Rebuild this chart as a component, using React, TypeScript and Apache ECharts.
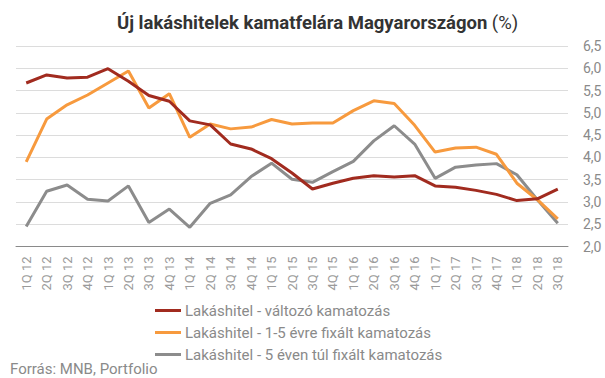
import React, { useEffect, useRef } from "react";
import * as echarts from "echarts";

const categories = [
  "1Q 12", "2Q 12", "3Q 12", "4Q 12",
  "1Q 13", "2Q 13", "3Q 13", "4Q 13",
  "1Q 14", "2Q 14", "3Q 14", "4Q 14",
  "1Q 15", "2Q 15", "3Q 15", "4Q 15",
  "1Q 16", "2Q 16", "3Q 16", "4Q 16",
  "1Q 17", "2Q 17", "3Q 17", "4Q 17",
  "1Q 18", "2Q 18", "3Q 18",
];

const valtozo = [
  5.67, 5.85, 5.78, 5.80, 5.99, 5.71, 5.39, 5.26, 4.82, 4.73, 4.30, 4.19,
  3.97, 3.65, 3.29, 3.42, 3.53, 3.59, 3.56, 3.59, 3.36, 3.33, 3.26, 3.17,
  3.03, 3.07, 3.29,
];

const fix15 = [
  3.90, 4.86, 5.18, 5.40, 5.67, 5.94, 5.11, 5.43, 4.45, 4.75, 4.64, 4.68,
  4.85, 4.75, 4.77, 4.77, 5.05, 5.27, 5.21, 4.72, 4.12, 4.21, 4.23, 4.07,
  3.42, 3.05, 2.62,
];

const fix5plus = [
  2.45, 3.24, 3.38, 3.06, 3.02, 3.36, 2.54, 2.84, 2.43, 2.97, 3.16, 3.57,
  3.87, 3.51, 3.44, 3.68, 3.91, 4.37, 4.71, 4.30, 3.53, 3.78, 3.83, 3.86,
  3.61, 3.05, 2.52,
];

const seriesNames = [
  "Lakáshitel - változó kamatozás",
  "Lakáshitel - 1-5 évre fixált kamatozás",
  "Lakáshitel - 5 éven túl fixált kamatozás",
];

const colors = ["#A12B1F", "#F79A3E", "#8C8C8C"];

export default function App() {
  const ref = useRef<HTMLDivElement>(null);
  useEffect(() => {
    if (!ref.current) return;
    const chart = echarts.init(ref.current, undefined, { renderer: "svg" });
    const font = "Roboto, 'Noto Sans', sans-serif";
    chart.setOption({
      animation: false,
      color: colors,
      textStyle: { fontFamily: font },
      title: {
        text: "{b|Új lakáshitelek kamatfelára Magyarországon} {n|(%)}",
        left: 112,
        top: 8,
        textStyle: {
          rich: {
            b: { fontFamily: font, fontSize: 18.5, fontWeight: "bold", color: "#333333" },
            n: { fontFamily: font, fontSize: 18.5, fontWeight: "normal", color: "#333333" },
          },
        },
      },
      grid: { left: 16, right: 37, top: 46, bottom: 131.5, containLabel: false },
      legend: {
        orient: "vertical",
        left: 150,
        top: 298,
        itemGap: 7,
        itemWidth: 26,
        itemHeight: 3,
        icon: "rect",
        textStyle: { fontFamily: font, fontSize: 15, color: "#8a8a8a", padding: [0, 0, 0, -1] },
        data: seriesNames,
      },
      graphic: [
        {
          type: "text",
          left: 10,
          top: 361,
          style: {
            text: "Forrás: MNB, Portfolio",
            fontFamily: font,
            fontSize: 15,
            fill: "#8a8a8a",
          },
        },
      ],
      xAxis: {
        type: "category",
        data: categories,
        boundaryGap: true,
        axisLine: { show: true, lineStyle: { color: "#8a8a8a", width: 1 } },
        axisTick: { show: false },
        axisLabel: {
          rotate: 90,
          interval: 0,
          margin: 10,
          fontFamily: font,
          fontSize: 13,
          color: "#9a9a9a",
        },
      },
      yAxis: {
        type: "value",
        position: "right",
        min: 2,
        max: 6.5,
        interval: 0.5,
        axisLine: { show: false },
        axisTick: { show: false },
        splitLine: { lineStyle: { color: "#dcdcdc", width: 1 } },
        axisLabel: {
          margin: 15,
          fontFamily: font,
          fontSize: 14,
          color: "#8a8a8a",
          formatter: (v: number) => v.toFixed(1).replace(".", ","),
        },
      },
      series: [
        { name: seriesNames[0], type: "line", data: valtozo, symbol: "none", lineStyle: { width: 3 }, z: 3 },
        { name: seriesNames[1], type: "line", data: fix15, symbol: "none", lineStyle: { width: 3 }, z: 2 },
        { name: seriesNames[2], type: "line", data: fix5plus, symbol: "none", lineStyle: { width: 3 }, z: 1 },
      ],
    });
    return () => chart.dispose();
  }, []);
  return <div ref={ref} style={{ width: 605, height: 378, position: "absolute", left: 0, top: 0 }} />;
}
